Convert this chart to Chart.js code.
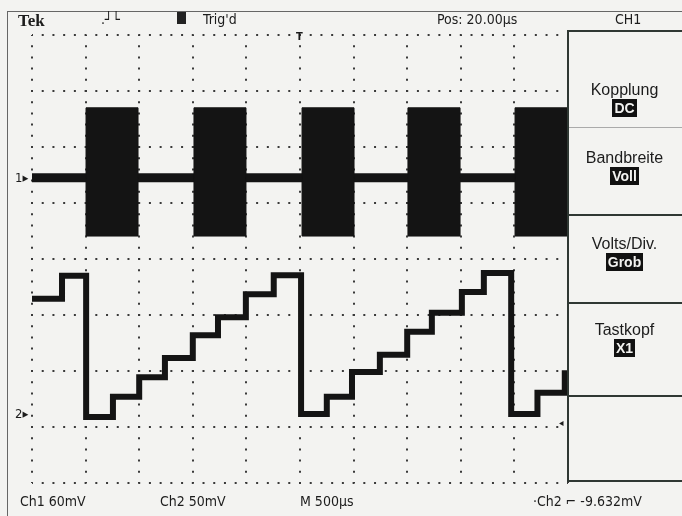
<!DOCTYPE html>
<html lang="de">
<head>
  <meta charset="UTF-8" />
  <title>Tek CH1 / CH2</title>
  <script src="https://cdn.jsdelivr.net/npm/chart.js"></script>
  <style>
    body { margin: 0; background: #f3f3f1; }
    #screen { position: relative; width: 682px; height: 516px; background: #f3f3f1; overflow: hidden; color: #1c1c1c; }
    #scope { position: absolute; left: 0; top: 0; }
    .t { position: absolute; white-space: nowrap; font-family: "Liberation Sans Narrow", "DejaVu Sans Condensed", sans-serif; font-size: 14px; line-height: 14px; }
    .menu { position: absolute; left: 567px; width: 115px; text-align: center; font-family: "Liberation Sans", "DejaVu Sans", sans-serif; font-size: 16px; line-height: 18px; }
    .hi { display: inline-block; background: #111; color: #f3f3f1; padding: 0 2px; font-size: 14px; line-height: 18px; font-weight: bold; }
    .line { position: absolute; background: #2f3833; }
  </style>
</head>
<body>
  <div id="screen">
    <canvas id="scope" width="682" height="516"></canvas>

    <!-- frame -->
    <div class="line" style="left:7px; top:11px; width:675px; height:1px; background:#666;"></div>
    <div class="line" style="left:7px; top:11px; width:1px; height:505px; background:#666;"></div>

    <!-- status line -->
    <div class="t" style="left:18px; top:12px; font-family:'Liberation Serif', serif; font-weight:bold; font-size:17px; line-height:17px;">Tek</div>
    <div class="t" style="left:101px; top:12px;">.┘└</div>
    <div class="line" style="left:177px; top:12px; width:9px; height:12px; background:#222;"></div>
    <div class="t" style="left:203px; top:12px;">Trig'd</div>
    <div class="t" style="left:437px; top:12px;">Pos: 20.00µs</div>
    <div class="t" style="left:615px; top:12px;">CH1</div>
    <div class="t" style="left:296px; top:31px; font-weight:bold; font-size:11px; line-height:11px;">T</div>

    <!-- channel markers -->
    <div class="t" style="left:15px; top:171px; font-size:13px;">1▸</div>
    <div class="t" style="left:15px; top:407px; font-size:13px;">2▸</div>
    <div class="t" style="left:559px; top:416px; font-size:10px;">◂</div>

    <!-- bottom line -->
    <div class="t" style="left:20px; top:494px;">Ch1 60mV</div>
    <div class="t" style="left:160px; top:494px;">Ch2 50mV</div>
    <div class="t" style="left:300px; top:494px;">M 500µs</div>
    <div class="t" style="left:533px; top:494px;">·Ch2 ⌐ -9.632mV</div>

    <!-- side menu -->
    <div class="line" style="left:567px; top:30px; width:2px; height:452px;"></div>
    <div class="line" style="left:567px; top:30px; width:115px; height:2px;"></div>
    <div class="line" style="left:567px; top:480px; width:115px; height:2px;"></div>
    <div class="line" style="left:569px; top:127px; width:113px; height:1px; background:#aaa;"></div>
    <div class="line" style="left:569px; top:214px; width:113px; height:2px;"></div>
    <div class="line" style="left:569px; top:302px; width:113px; height:2px;"></div>
    <div class="line" style="left:569px; top:395px; width:113px; height:2px;"></div>

    <div class="menu" style="top:81px;">Kopplung<br /><span class="hi">DC</span></div>
    <div class="menu" style="top:149px;">Bandbreite<br /><span class="hi">Voll</span></div>
    <div class="menu" style="top:235px;">Volts/Div.<br /><span class="hi">Grob</span></div>
    <div class="menu" style="top:321px;">Tastkopf<br /><span class="hi">X1</span></div>
  </div>

  <script>
    // time axis in µs (500 µs/div, 10 div), vertical axis in divisions (8 div)
    const timeTicks = [0, 500, 1000, 1500, 2000, 2500, 3000, 3500, 4000, 4500, 5000];
    const divTicks = [-4, -3, -2, -1, 0, 1, 2, 3, 4];

    const ch1Base = 1.45;
    const burstStart = [504, 1511, 2519, 3507, 4506];
    const burstEnd = [989, 1996, 3004, 3993, 5000];
    const burstTop = [2.70, 2.70, 2.70, 2.70, 2.70];
    const burstBottom = [0.41, 0.41, 0.41, 0.41, 0.41];

    // Ch2: staircase, each level holds from its time to the next
    const ch2Times = [0, 280, 505, 755, 1000, 1240, 1500, 1735, 1995, 2255,
                      2510, 2750, 2985, 3245, 3500, 3730, 4010, 4215,
                      4470, 4715, 4970, 5000];
    const ch2Levels = [-0.71, -0.30, -2.82, -2.46, -2.11, -1.77, -1.36, -1.04, -0.63, -0.29,
                       -2.77, -2.46, -2.02, -1.71, -1.30, -0.96, -0.59, -0.25,
                       -2.77, -2.39, -2.04, -2.04];

    // envelope points: the level of a point holds until the next one
    const upper = [{ x: 0, y: ch1Base }];
    const lower = [{ x: 0, y: ch1Base }];
    burstStart.forEach((s, i) => {
      upper.push({ x: s, y: burstTop[i] });
      lower.push({ x: s, y: burstBottom[i] });
      upper.push({ x: burstEnd[i], y: ch1Base });
      lower.push({ x: burstEnd[i], y: ch1Base });
    });
    if (upper[upper.length - 1].x < 5000) {
      upper.push({ x: 5000, y: ch1Base });
      lower.push({ x: 5000, y: ch1Base });
    }

    // "stepped: before" in Chart.js draws horizontal at the previous level, then vertical,
    // so each point carries the level that ends at its x
    const shift = pts => pts.map((p, i) => ({ x: p.x, y: i === 0 ? p.y : pts[i - 1].y }));
    const ch2 = shift(ch2Times.map((t, i) => ({ x: t, y: ch2Levels[i] })));
    const ink = "#141414";

    new Chart(document.getElementById("scope"), {
      type: "line",
      data: {
        datasets: [
          { data: shift(upper), stepped: "after", borderColor: ink, borderWidth: 1, pointRadius: 0, fill: false },
          { data: shift(lower), stepped: "after", borderColor: ink, borderWidth: 1, pointRadius: 0, fill: "-1", backgroundColor: ink },
          { data: [{ x: 0, y: ch1Base }, { x: 5000, y: ch1Base }], borderColor: ink, borderWidth: 9, pointRadius: 0, fill: false },
          { data: ch2, stepped: "after", borderColor: ink, borderWidth: 6, pointRadius: 0, fill: false }
        ]
      },
      options: {
        responsive: false,
        animation: false,
        devicePixelRatio: 1,
        layout: { padding: { left: 32, top: 35, right: 114, bottom: 33 } },
        plugins: { legend: { display: false }, tooltip: { enabled: false } },
        scales: {
          x: {
            type: "linear", min: 0, max: 5000,
            afterBuildTicks: s => { s.ticks = timeTicks.map(v => ({ value: v })); },
            ticks: { display: false },
            border: { display: false, dash: [2, 9.2], dashOffset: 1 },
            grid: { color: "#3a3a3a", lineWidth: 2, drawTicks: false }
          },
          y: {
            type: "linear", min: -4, max: 4,
            afterBuildTicks: s => { s.ticks = divTicks.map(v => ({ value: v })); },
            ticks: { display: false },
            border: { display: false, dash: [2, 8.72], dashOffset: 1 },
            grid: { color: "#3a3a3a", lineWidth: 2, drawTicks: false }
          }
        }
      }
    });
  </script>
</body>
</html>
